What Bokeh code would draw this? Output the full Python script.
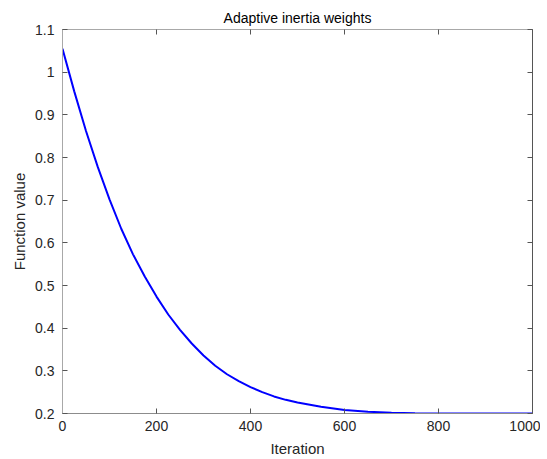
from bokeh.plotting import figure
from bokeh.models import LinearAxis, FixedTicker, Range1d, ColumnDataSource
from bokeh.embed import file_html
from bokeh.resources import INLINE

# Data
iterations = [0, 25, 50, 75, 100, 125, 150, 175, 200, 225, 250, 275, 300, 325,
              350, 375, 400, 425, 450, 475, 500, 550, 600, 650, 700, 750, 800,
              900, 1000]
func_value = [1.055, 0.955, 0.862, 0.778, 0.702, 0.633, 0.573, 0.521, 0.474,
              0.432, 0.396, 0.364, 0.336, 0.312, 0.292, 0.276, 0.262, 0.250,
              0.240, 0.232, 0.226, 0.216, 0.208, 0.204, 0.2015, 0.2005, 0.2,
              0.2, 0.2]
x_ticks = [0, 200, 400, 600, 800, 1000]
y_ticks = [0.2, 0.3, 0.4, 0.5, 0.6, 0.7, 0.8, 0.9, 1.0, 1.1]
y_tick_labels = ["0.2", "0.3", "0.4", "0.5", "0.6", "0.7", "0.8", "0.9", "1", "1.1"]

FONT = "Liberation Sans"

p = figure(width=540, height=459, output_backend="svg", toolbar_location=None,
           x_range=Range1d(0, 1000), y_range=Range1d(0.2, 1.1),
           title="Adaptive inertia weights",
           min_border_left=62, min_border_right=8, min_border_top=29,
           min_border_bottom=45, x_axis_label="Iteration",
           y_axis_label="Function value")

src = ColumnDataSource(dict(x=iterations, y=func_value))
p.line("x", "y", source=src, line_color="#0000ff", line_width=2)

p.xgrid.visible = False
p.ygrid.visible = False
p.outline_line_color = None
p.background_fill_color = "white"
p.border_fill_color = "white"

p.title.text_font = FONT
p.title.text_font_size = "14px"
p.title.text_font_style = "normal"
p.title.text_color = "#000000"
p.title.align = "center"
p.title.standoff = 8

def style_axis(ax, line_color):
    ax.axis_line_color = line_color
    ax.axis_line_width = 1
    ax.major_tick_in = 5
    ax.major_tick_out = 0
    ax.minor_tick_line_color = None
    ax.major_tick_line_color = "#555555"
    ax.major_label_text_font = FONT
    ax.major_label_text_font_size = "14px"
    ax.major_label_text_color = "#262626"
    ax.axis_label_text_font = FONT
    ax.axis_label_text_font_size = "15px"
    ax.axis_label_text_font_style = "normal"
    ax.axis_label_text_color = "#262626"

xa = p.xaxis[0]
ya = p.yaxis[0]
style_axis(xa, "#8c8c8c")
style_axis(ya, "#a8a8a8")
xa.ticker = FixedTicker(ticks=x_ticks)
ya.ticker = FixedTicker(ticks=y_ticks)
ya.major_label_overrides = {t: l for t, l in zip(y_ticks, y_tick_labels)}
xa.major_label_standoff = 7
xa.axis_label_standoff = 6
ya.major_label_standoff = 8
ya.axis_label_standoff = 4

top = LinearAxis(ticker=FixedTicker(ticks=x_ticks))
right = LinearAxis(ticker=FixedTicker(ticks=y_ticks))
for ax, col in ((top, "#a8a8a8"), (right, "#555555")):
    style_axis(ax, col)
    ax.major_label_text_font_size = "0px"
    ax.major_label_standoff = 0
    ax.major_label_text_alpha = 0
p.add_layout(top, "above")
p.add_layout(right, "right")

open("out.html", "w").write(file_html(p, INLINE))
